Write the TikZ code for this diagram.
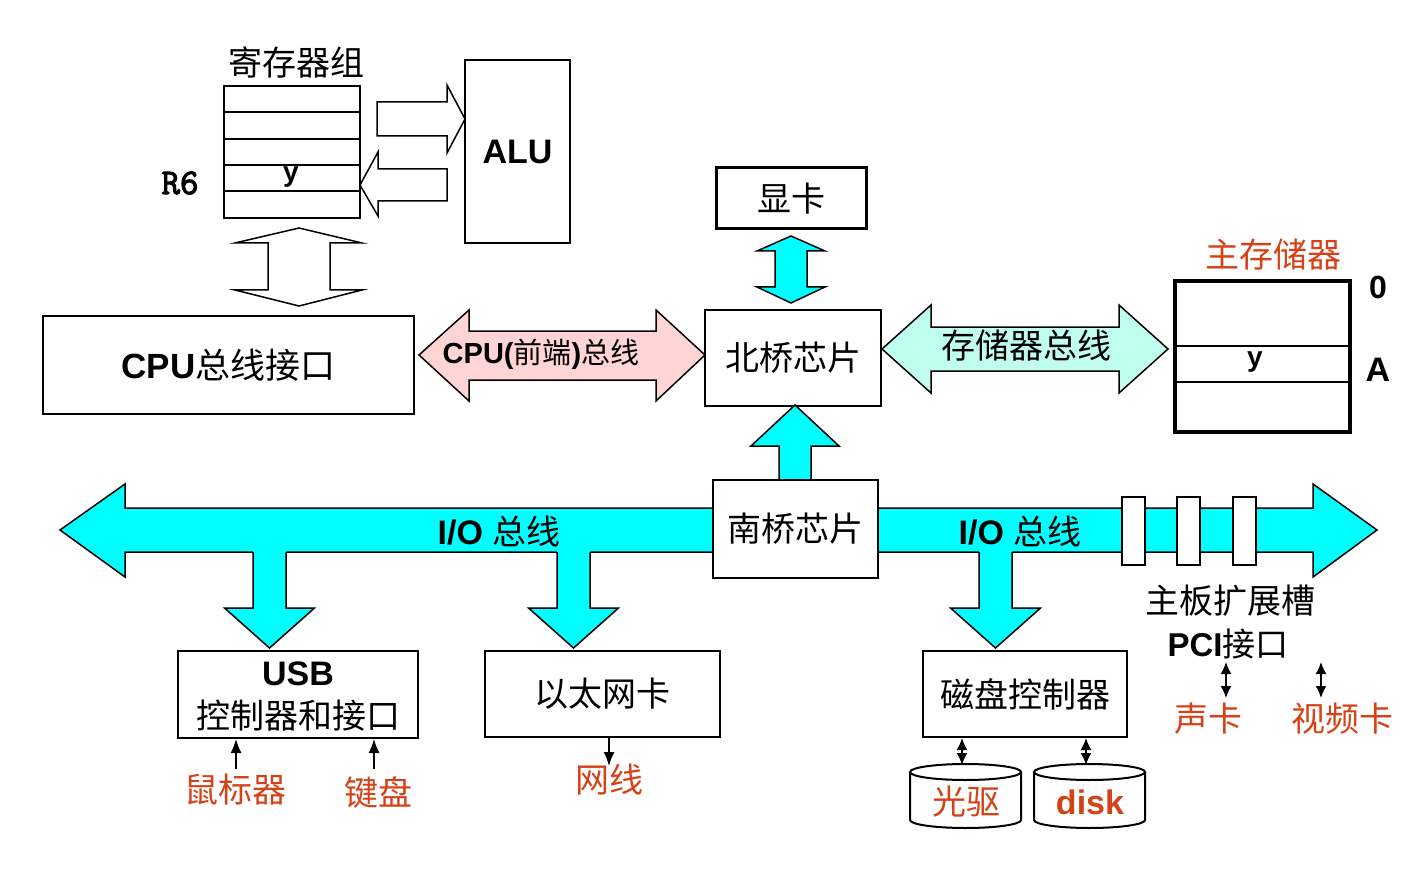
\documentclass[tikz,border=0pt]{standalone}
\usepackage{fontspec}
\setmainfont{Liberation Sans}
\newfontfamily\cjk{Noto Sans CJK SC}
\newfontfamily\rsixfont{Latin Modern Mono}[FakeBold=3]
\usetikzlibrary{arrows.meta}
\definecolor{redtxt}{RGB}{214,66,24}
\definecolor{pinkfill}{RGB}{255,212,212}
\definecolor{aquafill}{RGB}{192,255,240}
\definecolor{cyanfill}{RGB}{0,255,255}
\newcommand\zhbig{\cjk\fontsize{34}{40}\selectfont}
\newcommand\lbig{\fontsize{34}{40}\selectfont\bfseries}
\begin{document}
\begin{tikzpicture}[x=1pt,y=-1pt,
  box/.style={draw, line width=2pt, fill=white, inner sep=0pt, align=center},
  blk/.style={draw, line width=1.5pt, line join=miter},
  zh/.style={font=\zhbig, inner sep=0pt},
  zhred/.style={font=\zhbig, text=redtxt, inner sep=0pt},
  lat/.style={font=\lbig, inner sep=0pt},
  sarrow/.style={line width=1.5pt, -{Latex[length=14pt,width=11pt]}},
  dsarrow/.style={line width=1.5pt, {Latex[length=12pt,width=11pt]}-{Latex[length=12pt,width=11pt]}}]
\useasboundingbox (0,0) rectangle (1424,877);

% ---------- register file ----------
\node[zh] (regt) at (296,62) {寄存器组};
\node[box, minimum width=136pt, minimum height=132pt] (reg) at (292,152) {};
\foreach \yy in {112,139,165,191} \draw[line width=1.5pt] (224,\yy) -- (360,\yy);
\node[font=\fontsize{28}{30}\selectfont\bfseries, inner sep=0pt] (regy) at (291,177) {y};
\node[font=\rsixfont\fontsize{36}{38}\selectfont, inner sep=0pt] (r6) at (180,183) {R6};

% ---------- ALU ----------
\node[box, minimum width=105pt, minimum height=183pt, font=\lbig] (alu) at (517.5,151.5) {ALU};

% arrows register <-> ALU
\draw[blk, fill=white] (377,102) -- (447,102) -- (447,85) -- (465,119) -- (447,153) -- (447,136) -- (377,136) -- cycle;
\draw[blk, fill=white] (447,169) -- (378,169) -- (378,152) -- (360,185) -- (378,216) -- (378,201) -- (447,201) -- cycle;

% vertical double arrow register <-> CPU bus interface
\draw[blk, fill=white] (299,228) -- (362,243) -- (330,243) -- (330,290) -- (362,290) -- (299,306) -- (235,290) -- (268,290) -- (268,243) -- (235,243) -- cycle;

% ---------- CPU bus interface ----------
\node[box, minimum width=371pt, minimum height=98pt, font=\fontsize{35}{40}\selectfont] (cpui) at (228.5,365) {{\bfseries CPU}{\cjk 总线接口}};

% CPU front-side bus
\draw[blk, fill=pinkfill] (419,355) -- (469,310) -- (469,331) -- (656,331) -- (656,310) -- (705,355) -- (656,401) -- (656,380) -- (469,380) -- (469,401) -- cycle;
\node[font=\fontsize{29}{32}\selectfont, inner sep=0pt] (fsb) at (541,354) {{\bfseries CPU(}{\cjk 前端}{\bfseries )}{\cjk 总线}};

% ---------- north bridge ----------
\node[box, minimum width=176pt, minimum height=96pt, font=\zhbig] (nb) at (793,358) {北桥芯片};

% graphics card
\node[box, line width=3pt, minimum width=150pt, minimum height=61pt, font=\zhbig] (gpu) at (791,198.5) {显卡};
\draw[blk, fill=cyanfill] (791,236) -- (825,251) -- (807,251) -- (807,287) -- (825,287) -- (791,303) -- (757,287) -- (775,287) -- (775,251) -- (757,251) -- cycle;

% memory bus
\draw[blk, fill=aquafill] (882,349) -- (931,305) -- (931,327) -- (1119,327) -- (1119,305) -- (1168,349) -- (1119,393) -- (1119,371) -- (931,371) -- (931,393) -- cycle;
\node[zh] (membus) at (1026,346) {存储器总线};

% main memory
\node[zhred] (memt) at (1273,255) {主存储器};
\node[box, line width=4.5pt, minimum width=175pt, minimum height=151pt] (mem) at (1262.5,356.5) {};
\draw[line width=2pt] (1175,346) -- (1350,346);
\draw[line width=2pt] (1175,382) -- (1350,382);
\node[font=\fontsize{28}{30}\selectfont\bfseries, inner sep=0pt] (memy) at (1255,362) {y};
\node[font=\fontsize{32}{34}\selectfont\bfseries, inner sep=0pt] (m0) at (1378,287) {0};
\node[font=\fontsize{34}{36}\selectfont\bfseries, inner sep=0pt] (mA) at (1378,370) {A};

% ---------- I/O bus ----------
\draw[blk, fill=cyanfill] (60,530) -- (125,484) -- (125,508) -- (1313,508) -- (1313,484) -- (1377,530) -- (1313,577) -- (1313,552) -- (125,552) -- (125,577) -- cycle;

% up arrow south bridge -> north bridge
\draw[blk, fill=cyanfill] (795,405) -- (839,446) -- (811,446) -- (811,482) -- (779,482) -- (779,446) -- (751,446) -- cycle;

% down arrows
\foreach \cx in {269.5,573.5,995.5} {
  \fill[cyanfill] (\cx-16.5,550) -- (\cx-16.5,608) -- (\cx-45,608) -- (\cx,648) -- (\cx+45,608) -- (\cx+16.5,608) -- (\cx+16.5,550) -- cycle;
  \draw[line width=1.5pt, line join=miter] (\cx-16.5,552) -- (\cx-16.5,608) -- (\cx-45,608) -- (\cx,648) -- (\cx+45,608) -- (\cx+16.5,608) -- (\cx+16.5,552);
}

\node[lat] (io1) at (499,531) {I/O {\cjk\mdseries 总线}};
\node[lat] (io2) at (1020,531) {I/O {\cjk\mdseries 总线}};

% south bridge
\node[box, minimum width=165pt, minimum height=98pt, font=\zhbig] (sb) at (795.5,529) {南桥芯片};

% slots
\foreach \sx/\nm in {1133.5/sl1,1188.5/sl2,1244.5/sl3}
  \node[draw, line width=2pt, fill=white, minimum width=23pt, minimum height=68pt, inner sep=0pt] (\nm) at (\sx,531) {};

\node[zh] (slott) at (1230,601) {主板扩展槽};
\node[font=\fontsize{33}{36}\selectfont, inner sep=0pt] (pci) at (1228,644) {{\bfseries PCI}{\cjk 接口}};

% ---------- devices ----------
\node[box, minimum width=240pt, minimum height=87pt] (usb) at (298,694.5) {};
\node[lat] (usbt) at (298,674) {USB};
\node[zh] (usbc) at (298,716) {控制器和接口};

\node[box, minimum width=235pt, minimum height=86pt, font=\zhbig] (eth) at (602.5,694) {以太网卡};
\node[box, minimum width=204pt, minimum height=86pt, font=\zhbig] (dc) at (1025,694) {磁盘控制器};

% peripherals
\node[zhred] (mouse) at (235,790) {鼠标器};
\node[zhred] (kbd) at (378,792) {键盘};
\node[zhred] (wire) at (609,780) {网线};
\node[zhred] (snd) at (1208,719) {声卡};
\node[zhred] (vid) at (1342,719) {视频卡};

\coordinate (mouseA) at (236,769);
\coordinate (kbdA) at (374,769);
\coordinate (wireA) at (609,766);
\draw[sarrow] (mouseA) -- (mouseA |- usb.south);
\draw[sarrow] (kbdA) -- (kbdA |- usb.south);
\draw[sarrow] (wireA |- eth.south) -- (wireA);

% PCI double arrows
\coordinate (p1a) at (1226,662);
\coordinate (p1b) at (1226,698);
\coordinate (p2a) at (1321,662);
\coordinate (p2b) at (1321,698);
\draw[dsarrow] (p1a) -- (p1b);
\draw[dsarrow] (p2a) -- (p2b);

% drives (cylinders)
\foreach \cx/\nm in {965.5/cdtop,1089.5/hdtop} {
  \draw[line width=2pt, fill=white] (\cx-55.5,772) -- (\cx-55.5,820) arc (180:360:55.5pt and 8pt) -- (\cx+55.5,772);
  \draw[line width=2pt, fill=white] (\cx,772) ellipse (55.5pt and 8pt);
  \coordinate (\nm) at (\cx-3.5,765);
}
\node[zhred] (cd) at (966,802) {光驱};
\node[font=\lbig, text=redtxt, inner sep=0pt] (hd) at (1090,802) {disk};
\draw[dsarrow] (cdtop |- dc.south) -- (cdtop);
\draw[dsarrow] (hdtop |- dc.south) -- (hdtop);
\end{tikzpicture}
\end{document}
